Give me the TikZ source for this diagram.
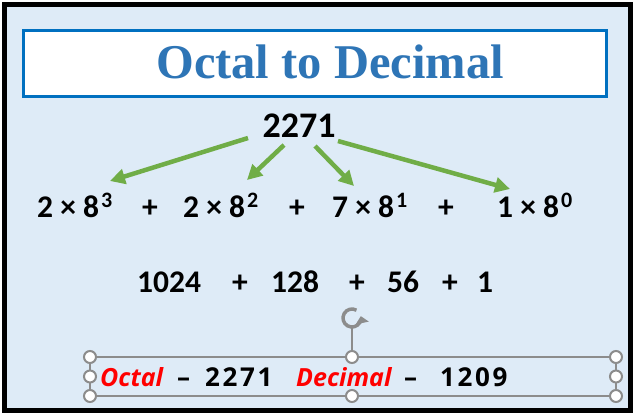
\documentclass[tikz,border=0pt]{standalone}
\usepackage{fontspec}
\setmainfont{Carlito}
\newfontfamily\titlefont{Liberation Serif}
\newfontfamily\handfont{Open Sans}
\newfontfamily\handdigits[LetterSpace=10]{Open Sans}
\usetikzlibrary{arrows.meta}
\definecolor{bgblue}{HTML}{DEEBF7}
\definecolor{boxblue}{HTML}{0070C0}
\definecolor{titleblue}{HTML}{2E75B6}
\definecolor{arrowgreen}{HTML}{70AD47}
\definecolor{handlegray}{HTML}{8C8C8C}
\definecolor{redtext}{HTML}{FF0000}
\newcommand\supx[1]{\hspace{2pt}\raisebox{10pt}{\fontsize{22}{22}\selectfont #1}}
\tikzset{
  txt/.style={inner sep=0pt, anchor=base west},
  rowtwo/.style={txt, font=\fontsize{31.5}{31.5}\selectfont\bfseries},
  rowthree/.style={txt, font=\fontsize{31.5}{31.5}\selectfont\bfseries},
  plustwo/.style={rowtwo, anchor=base},
  plusthree/.style={rowthree, anchor=base},
  hand/.style={txt, font=\handfont\bfseries\fontsize{26}{26}\selectfont},
  handnum/.style={txt, font=\handdigits\bfseries\fontsize{26}{26}\selectfont},
  handred/.style={txt, text=redtext, font=\handfont\bfseries\itshape\fontsize{25}{25}\selectfont},
  greenarrow/.style={draw=arrowgreen, line width=4.5pt, -{Triangle[length=15pt,width=15pt]}},
  handle/.style={circle, draw=handlegray, fill=white, line width=2pt, minimum size=12pt, inner sep=0pt},
  frameline/.style={draw=handlegray, line width=1.5pt},
}
\begin{document}
\begin{tikzpicture}[x=1pt,y=-1pt]
\useasboundingbox (0,0) rectangle (636,416);
\fill[white] (0,0) rectangle (636,416);
\draw[line width=5pt, fill=bgblue] (4.5,4.5) rectangle (630.5,410.5);
\draw[line width=3pt, draw=boxblue, fill=white] (23.5,30.5) rectangle (606.5,96.5);
\node[inner sep=0pt, anchor=base, text=titleblue, font=\titlefont\bfseries\fontsize{48.5}{48.5}\selectfont] (title) at (330,78) {Octal to Decimal};

\node[inner sep=0pt, anchor=base, font=\fontsize{36}{36}\selectfont\bfseries] (num) at (299,137) {2271};

% row 2
\node[rowtwo] (t1) at (37,217) {2 × 8\supx{3}};
\node[plustwo] (p1) at (150,217) {+};
\node[rowtwo] (t2) at (183,217) {2 × 8\supx{2}};
\node[plustwo] (p2) at (297,217) {+};
\node[rowtwo] (t3) at (332,217) {7 × 8\supx{1}};
\node[plustwo] (p3) at (446,217) {+};
\node[rowtwo] (t4) at (497,217) {1 × 8\supx{0}};

% arrows
\coordinate (a1s) at (248,138); \coordinate (a1e) at (110,181);
\coordinate (a2s) at (284,145); \coordinate (a2e) at (247,180);
\coordinate (a3s) at (315,146); \coordinate (a3e) at (354,186);
\coordinate (a4s) at (338,141); \coordinate (a4e) at (510,189);
\draw[greenarrow] (a1s) -- (a1e);
\draw[greenarrow] (a2s) -- (a2e);
\draw[greenarrow] (a3s) -- (a3e);
\draw[greenarrow] (a4s) -- (a4e);

% row 3
\node[rowthree] (r1) at (137,292) {1024};
\node[plusthree] (q1) at (240,292) {+};
\node[rowthree] (r2) at (271,292) {128};
\node[plusthree] (q2) at (357,292) {+};
\node[rowthree] (r3) at (387,292) {56};
\node[plusthree] (q3) at (450,292) {+};
\node[rowthree] (r4) at (477,292) {1};

% selection frame
\coordinate (fnw) at (90,357); \coordinate (fse) at (616,396);
\draw[frameline] (fnw) rectangle (fse);
\coordinate (rot) at (352,318);
\coordinate (rotlow) at (352,327);
\node[handle] (hnw) at (90,357) {};
\node[handle] (hn) at (352,357) {};
\node[handle] (hne) at (616,357) {};
\node[handle] (hw) at (90,376.5) {};
\node[handle] (he) at (616,376.5) {};
\node[handle] (hsw) at (90,396) {};
\node[handle] (hs) at (352,396) {};
\node[handle] (hse) at (616,396) {};
\draw[frameline] (rotlow) -- (hn);
\draw[draw=handlegray, line width=3.5pt, -{Triangle[length=7pt,width=13pt]}]
  (rot) ++(-60:9) arc[start angle=-60, end angle=-372, radius=9];

% bottom text
\node[handred] (oct) at (100,386) {Octal};
\node[hand] (d1) at (177,386) {–};
\node[handnum] (ov) at (205,386) {2271};
\node[handred] (dec) at (296,386) {Decimal};
\node[hand] (d2) at (404,386) {–};
\node[handnum] (dv) at (440,386) {1209};
\end{tikzpicture}
\end{document}
